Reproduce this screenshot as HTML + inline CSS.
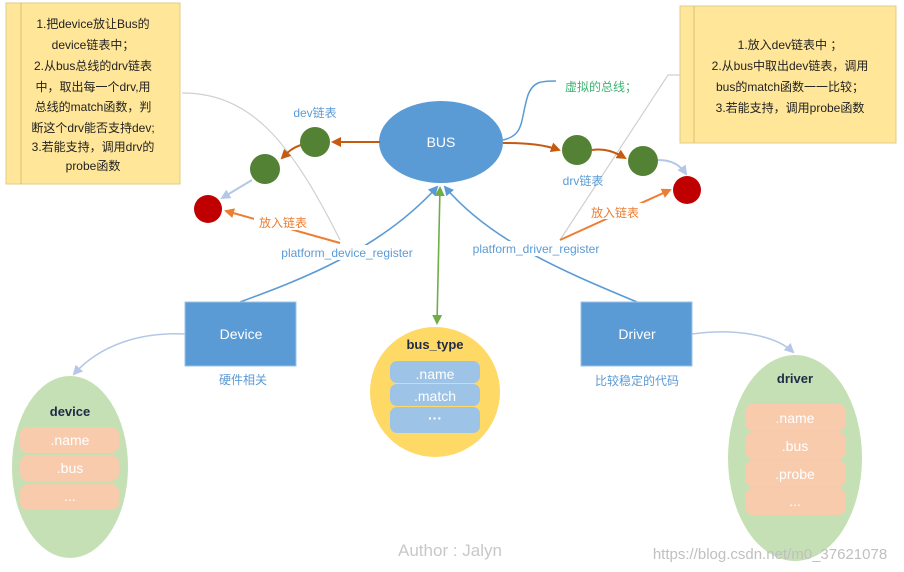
<!DOCTYPE html>
<html><head><meta charset="utf-8"><style>
html,body{margin:0;padding:0;background:#fff;}
svg{display:block;font-family:"Liberation Sans","Noto Sans CJK SC",sans-serif;}
</style></head><body>
<svg width="904" height="572" viewBox="0 0 904 572" xmlns="http://www.w3.org/2000/svg">
<defs>
<marker id="ao" markerWidth="10" markerHeight="10" refX="8" refY="5" orient="auto" markerUnits="userSpaceOnUse"><path d="M0,0 L10,5 L0,10 z" fill="#c55a11"/></marker>
<marker id="ao2" markerWidth="10" markerHeight="10" refX="8" refY="5" orient="auto" markerUnits="userSpaceOnUse"><path d="M0,0 L10,5 L0,10 z" fill="#ed7d31"/></marker>
<marker id="ab" markerWidth="10" markerHeight="10" refX="8" refY="5" orient="auto" markerUnits="userSpaceOnUse"><path d="M0,0 L10,5 L0,10 z" fill="#5b9bd5"/></marker>
<marker id="al" markerWidth="10" markerHeight="10" refX="8" refY="5" orient="auto" markerUnits="userSpaceOnUse"><path d="M0,0 L10,5 L0,10 z" fill="#b4c7e7"/></marker>
<marker id="ag" markerWidth="10" markerHeight="10" refX="8" refY="5" orient="auto" markerUnits="userSpaceOnUse"><path d="M0,0 L10,5 L0,10 z" fill="#70ad47"/></marker>
<marker id="ags" markerWidth="10" markerHeight="10" refX="2" refY="5" orient="auto" markerUnits="userSpaceOnUse"><path d="M10,0 L0,5 L10,10 z" fill="#70ad47"/></marker>
</defs>

<!-- notes -->
<rect x="6" y="3" width="174" height="181" fill="#ffe699" stroke="#e0cc88"/>
<line x1="21" y1="3" x2="21" y2="184" stroke="#d6c17a"/>
<g font-size="12" fill="#222" text-anchor="middle">
<text x="93" y="28">1.把device放让Bus的</text>
<text x="93" y="49">device链表中；</text>
<text x="93" y="70">2.从bus总线的drv链表</text>
<text x="93" y="91">中，取出每一个drv,用</text>
<text x="93" y="111">总线的match函数，判</text>
<text x="93" y="132">断这个drv能否支持dev;</text>
<text x="93" y="151">3.若能支持，调用drv的</text>
<text x="93" y="170">probe函数</text>
</g>
<rect x="680" y="6" width="216" height="137" fill="#ffe699" stroke="#e0cc88"/>
<line x1="694" y1="6" x2="694" y2="143" stroke="#d6c17a"/>
<g font-size="12" fill="#222" text-anchor="middle">
<text x="790" y="49">1.放入dev链表中 ；</text>
<text x="790" y="70">2.从bus中取出dev链表，调用</text>
<text x="790" y="91">bus的match函数一一比较；</text>
<text x="790" y="112">3.若能支持，调用probe函数</text>
</g>

<!-- grey connectors -->
<path d="M182,93 C250,93 290,140 340,240" fill="none" stroke="#d0d0d0" stroke-width="1.2"/>
<path d="M680,75 L668,75 L560,240" fill="none" stroke="#d0d0d0" stroke-width="1.2"/>

<!-- virtual bus callout -->
<path d="M503,140 C525,135 520,120 528,95 C533,82 540,81 556,81" fill="none" stroke="#5b9bd5" stroke-width="1.5"/>
<text x="565" y="91" font-size="12" fill="#3cb371">虚拟的总线；</text>

<!-- BUS -->
<ellipse cx="441" cy="142" rx="62" ry="41" fill="#5b9bd5"/>
<text x="441" y="147" font-size="14" fill="#fff" text-anchor="middle">BUS</text>

<!-- dev list -->
<path d="M380,142 L333,142" stroke="#c55a11" stroke-width="2" fill="none" marker-end="url(#ao)"/>
<path d="M301,145 C292,148 288,152 282,158" stroke="#c55a11" stroke-width="2" fill="none" marker-end="url(#ao)"/>
<path d="M252,180 L222,198" stroke="#b4c7e7" stroke-width="2" fill="none" marker-end="url(#al)"/>
<circle cx="315" cy="142" r="15" fill="#548235"/>
<circle cx="265" cy="169" r="15" fill="#548235"/>
<circle cx="208" cy="209" r="14" fill="#c00000"/>
<text x="315" y="117" font-size="12" fill="#5b9bd5" text-anchor="middle">dev链表</text>
<path d="M340,243 L226,211" stroke="#ed7d31" stroke-width="2" fill="none" marker-end="url(#ao2)"/>
<rect x="254" y="214" width="58" height="16" fill="#fff"/>
<text x="283" y="227" font-size="12" fill="#ed7d31" text-anchor="middle">放入链表</text>

<!-- drv list -->
<path d="M503,143 C530,143 545,145 559,150" stroke="#c55a11" stroke-width="2" fill="none" marker-end="url(#ao)"/>
<path d="M592,150 C605,148 615,152 625,158" stroke="#c55a11" stroke-width="2" fill="none" marker-end="url(#ao)"/>
<path d="M658,160 C672,160 680,165 686,174" stroke="#b4c7e7" stroke-width="2" fill="none" marker-end="url(#al)"/>
<circle cx="577" cy="150" r="15" fill="#548235"/>
<circle cx="643" cy="161" r="15" fill="#548235"/>
<circle cx="687" cy="190" r="14" fill="#c00000"/>
<text x="583" y="185" font-size="12" fill="#5b9bd5" text-anchor="middle">drv链表</text>
<path d="M560,240 L670,190" stroke="#ed7d31" stroke-width="2" fill="none" marker-end="url(#ao2)"/>
<rect x="586" y="203" width="58" height="16" fill="#fff"/>
<text x="615" y="217" font-size="12" fill="#ed7d31" text-anchor="middle">放入链表</text>

<!-- register lines -->
<path d="M240,302 C300,280 380,250 437,187" stroke="#5b9bd5" stroke-width="1.6" fill="none" marker-end="url(#ab)"/>
<path d="M637,302 C560,270 490,240 445,187" stroke="#5b9bd5" stroke-width="1.6" fill="none" marker-end="url(#ab)"/>
<path d="M440,188 L437,323" stroke="#70ad47" stroke-width="1.6" fill="none" marker-start="url(#ags)" marker-end="url(#ag)"/>
<rect x="278" y="245" width="138" height="15" fill="#fff"/>
<text x="347" y="257" font-size="12" fill="#5b9bd5" text-anchor="middle">platform_device_register</text>
<rect x="467" y="241" width="138" height="15" fill="#fff"/>
<text x="536" y="253" font-size="12" fill="#5b9bd5" text-anchor="middle">platform_driver_register</text>

<!-- Device / Driver boxes -->
<rect x="185" y="302" width="111" height="64" fill="#5b9bd5" stroke="#9dc3e6"/>
<text x="241" y="339" font-size="14" fill="#fff" text-anchor="middle">Device</text>
<text x="243" y="384" font-size="12" fill="#5b9bd5" text-anchor="middle">硬件相关</text>
<rect x="581" y="302" width="111" height="64" fill="#5b9bd5" stroke="#9dc3e6"/>
<text x="637" y="339" font-size="14" fill="#fff" text-anchor="middle">Driver</text>
<text x="637" y="385" font-size="12" fill="#5b9bd5" text-anchor="middle">比较稳定的代码</text>

<path d="M185,334 C140,332 100,345 74,374" stroke="#b4c7e7" stroke-width="1.5" fill="none" marker-end="url(#al)"/>
<path d="M692,334 C735,328 775,335 793,352" stroke="#b4c7e7" stroke-width="1.5" fill="none" marker-end="url(#al)"/>

<!-- bus_type -->
<circle cx="435" cy="392" r="65" fill="#ffd966"/>
<text x="435" y="349" font-size="13" font-weight="bold" fill="#1f2a44" text-anchor="middle">bus_type</text>
<rect x="390" y="361" width="90" height="22" rx="7" fill="#9dc3e6"/>
<rect x="390" y="384" width="90" height="22" rx="7" fill="#9dc3e6"/>
<rect x="390" y="407" width="90" height="26" rx="7" fill="#9dc3e6"/>
<g font-size="14" fill="#fff" text-anchor="middle">
<text x="435" y="379">.name</text>
<text x="435" y="401">.match</text>
<text x="435" y="423" font-weight="bold">···</text>
</g>

<!-- device ellipse -->
<ellipse cx="70" cy="467" rx="58" ry="91" fill="#c5e0b4"/>
<text x="70" y="416" font-size="13" font-weight="bold" fill="#1f2a44" text-anchor="middle">device</text>
<rect x="20" y="427" width="99" height="26" rx="8" fill="#f8cbad"/>
<rect x="20" y="455" width="99" height="26" rx="8" fill="#f8cbad"/>
<rect x="20" y="484" width="99" height="26" rx="8" fill="#f8cbad"/>
<g font-size="14" fill="#fff" text-anchor="middle">
<text x="70" y="445">.name</text>
<text x="70" y="473">.bus</text>
<text x="70" y="501">...</text>
</g>

<!-- driver ellipse -->
<ellipse cx="795" cy="458" rx="67" ry="103" fill="#c5e0b4"/>
<text x="795" y="383" font-size="13" font-weight="bold" fill="#1f2a44" text-anchor="middle">driver</text>
<rect x="745" y="404" width="101" height="27" rx="8" fill="#f8cbad"/>
<rect x="745" y="432" width="101" height="27" rx="8" fill="#f8cbad"/>
<rect x="745" y="460" width="101" height="27" rx="8" fill="#f8cbad"/>
<rect x="745" y="488" width="101" height="27" rx="8" fill="#f8cbad"/>
<g font-size="14" fill="#fff" text-anchor="middle">
<text x="795" y="423">.name</text>
<text x="795" y="451">.bus</text>
<text x="795" y="479">.probe</text>
<text x="795" y="506">...</text>
</g>

<!-- watermarks -->
<text x="450" y="556" font-size="17" fill="#c8c8c8" text-anchor="middle">Author : Jalyn</text>
<text x="770" y="559" font-size="15" fill="#c0c0c0" text-anchor="middle">https://blog.csdn.net/m0_37621078</text>
</svg>
</body></html>
